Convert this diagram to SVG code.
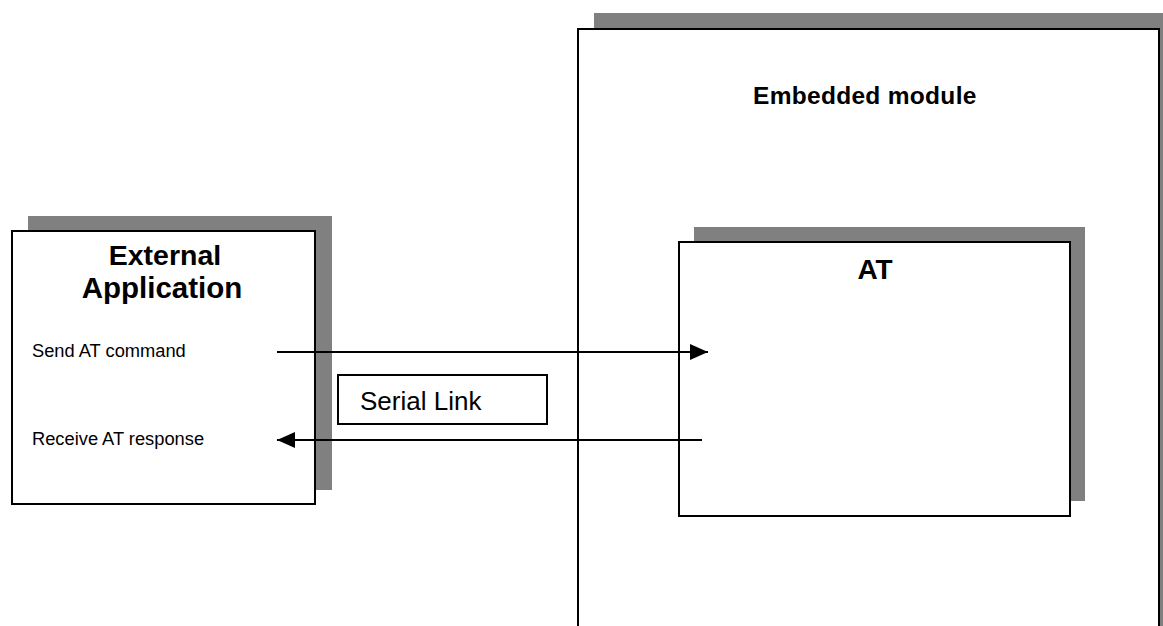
<svg xmlns="http://www.w3.org/2000/svg" width="1163" height="626" viewBox="0 0 1163 626">
<defs>
<style>
.shadow{fill:#808080;stroke:none}
.box{fill:#fff;stroke:#000;stroke-width:2}
.t{font-family:"Liberation Sans",Arial,sans-serif;fill:#000}
.b{font-weight:bold}
.conn{stroke:#000;stroke-width:2.2;fill:none}
</style>
<marker id="ah" viewBox="0 0 18 16" refX="18" refY="8" markerWidth="18" markerHeight="16" markerUnits="userSpaceOnUse" orient="auto">
<path d="M0,0 L18,8 L0,16 z" fill="#000"/>
</marker>
</defs>
<rect width="1163" height="626" fill="#fff"/>
<g id="embedded-module">
<rect class="shadow" x="594" y="13" width="569" height="613"/>
<rect class="box" x="578" y="29" width="581" height="601"/>
<text class="t b" x="753" y="104" font-size="24.5" letter-spacing="0.3">Embedded module</text>
</g>
<g id="external-application">
<rect class="shadow" x="28" y="216" width="304" height="274"/>
<rect class="box" x="12" y="231" width="303" height="273"/>
<text class="t b" x="165" y="265" font-size="28.5" text-anchor="middle">External</text>
<text class="t b" x="162" y="298" font-size="29.5" text-anchor="middle">Application</text>
<text class="t" x="32" y="357" font-size="18.3">Send AT command</text>
<text class="t" x="32" y="445" font-size="18.3">Receive AT response</text>
</g>
<g id="at">
<rect class="shadow" x="694" y="227" width="391" height="274"/>
<rect class="box" x="679" y="242" width="391" height="274"/>
<text class="t b" x="875" y="279" font-size="28" text-anchor="middle">AT</text>
</g>
<g id="serial-link">
<rect class="box" x="338" y="375" width="209" height="49" stroke-width="1.5"/>
<text class="t" x="360" y="410" font-size="26">Serial Link</text>
</g>
<g id="connectors">
<line class="conn" x1="277" y1="352" x2="708" y2="352" marker-end="url(#ah)"/>
<line class="conn" x1="702" y1="440" x2="277" y2="440" marker-end="url(#ah)"/>
</g>
</svg>
